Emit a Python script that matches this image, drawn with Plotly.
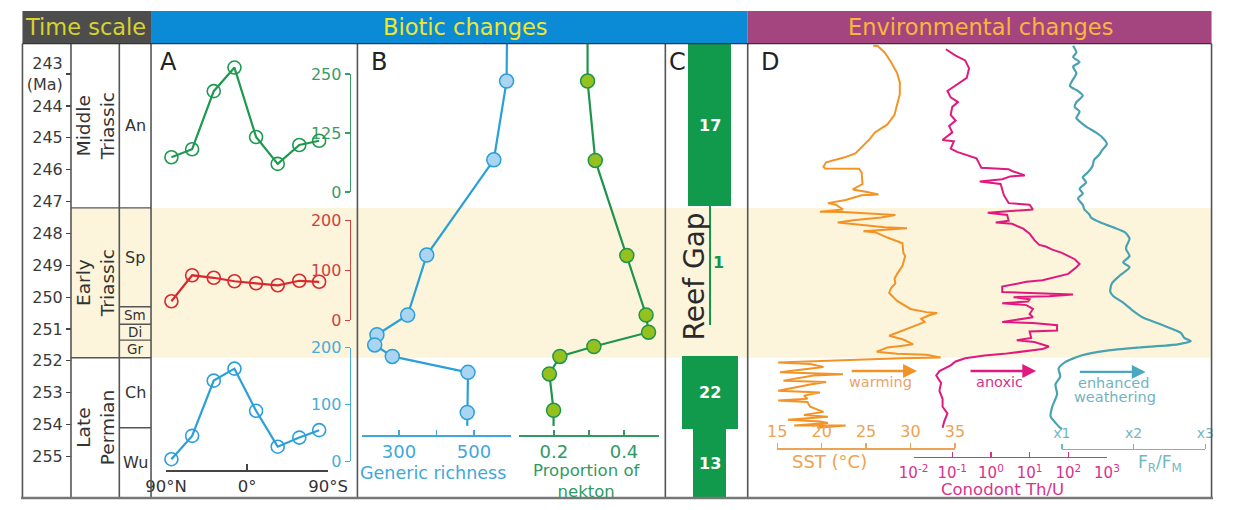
import plotly.graph_objects as go

W, H = 1233, 510
FONT = "DejaVu Sans"

# ---------------- data ----------------
age_ticks = [243, 244, 245, 246, 247, 248, 249, 250, 251, 252, 253, 254, 255]

series_names = ["Middle<br>Triassic", "Early<br>Triassic", "Late<br>Permian"]
series_top = [242.05, 247.2, 251.9]
series_base = [247.2, 251.9, 256.3]

stage_names = ["An", "Sp", "Sm", "Di", "Gr", "Ch", "Wu"]
stage_top = [242.05, 247.2, 250.3, 250.85, 251.35, 251.9, 254.1]
stage_base = [247.2, 250.3, 250.85, 251.35, 251.9, 254.1, 256.3]

early_triassic = [247.2, 251.9]

# Panel A: generic diversity by palaeolatitude
lat = [84, 61, 37, 14, -10, -34, -58, -80]
div_mid_triassic = [74, 91, 214, 264, 117, 60, 100, 109]
div_early_triassic = [38, 90, 85, 78, 74, 70, 79, 77]
div_late_permian = [4, 45, 142, 163, 89, 26, 42, 55]

# Panel B
rich_age = [243.22, 245.69, 248.68, 250.56, 251.18, 251.50, 251.86, 252.36, 253.62]
richness = [587, 553, 374, 323, 241, 235, 282, 484, 482]
rich_ends_age = [242.05, 254.04]
rich_ends = [588, 482]

nek_age = [243.22, 245.71, 248.69, 250.56, 251.10, 251.55, 251.86, 252.41, 253.55]
nekton = [0.296, 0.318, 0.408, 0.463, 0.470, 0.314, 0.217, 0.187, 0.199]
nek_ends_age = [242.05, 254.04]
nek_ends = [0.296, 0.199]

# Panel C: number of reefs
reef_counts = [17, 1, 22, 13]
reef_top = [242.05, 247.1, 251.85, 254.15]
reef_base = [247.15, 250.87, 254.15, 256.3]

# Panel D
sst_age = [242.11, 242.12, 242.32, 242.62, 242.97, 243.27, 243.63, 243.98, 244.28, 244.58,
           244.73, 244.83, 245.04, 245.24, 245.49, 245.62, 245.71, 245.77, 245.91, 245.96,
           245.97, 246.09, 246.45, 246.55, 246.62, 246.70, 246.78, 246.80, 246.95, 247.05,
           247.10, 247.25, 247.32, 247.33, 247.42, 247.50, 247.58, 247.66, 247.73, 247.81,
           247.84, 247.89, 247.93, 247.96, 248.13, 248.31, 248.61, 248.71, 249.02, 249.27,
           249.42, 249.57, 249.72, 249.87, 250.12, 250.37, 250.47, 250.50, 250.57, 250.68,
           250.78, 250.88, 251.08, 251.21, 251.33, 251.48, 251.53, 251.58, 251.71, 251.78,
           251.81, 251.89, 251.92, 251.95, 251.98, 252.02, 252.05, 252.10, 252.19, 252.36,
           252.39, 252.42, 252.46, 252.62, 252.66, 252.74, 252.94, 252.99, 253.09, 253.19,
           253.24, 253.29, 253.44, 253.60, 253.70, 253.75, 253.85, 253.90, 253.95, 254.03,
           254.03, 254.10]
sst = [25.8, 26.3, 27.1, 27.8, 28.5, 28.8, 28.8, 28.5, 28.2, 27.4,
       26.5, 26.0, 25.4, 24.7, 23.8, 22.5, 21.3, 20.5, 20.2, 20.4,
       24.2, 24.5, 24.6, 24.0, 23.5, 25.1, 26.4, 24.5, 22.7, 20.7,
       21.6, 22.4, 19.8, 22.4, 28.3, 26.7, 23.8, 21.8, 24.5, 27.1,
       29.6, 26.7, 24.7, 26.0, 27.4, 29.1, 29.2, 29.4, 29.1, 28.5,
       28.2, 28.3, 27.8, 27.6, 28.5, 30.0, 31.8, 33.0, 32.1, 31.2,
       31.6, 30.7, 28.9, 27.6, 29.2, 30.3, 28.9, 27.4, 26.2, 28.5,
       31.8, 33.4, 28.9, 26.0, 22.4, 18.7, 15.1, 18.7, 20.2, 15.3,
       19.5, 22.4, 19.1, 15.7, 20.5, 18.7, 15.1, 19.8, 18.0, 18.4,
       15.1, 18.4, 18.7, 20.2, 18.0, 20.7, 16.2, 19.8, 20.7, 16.9,
       22.7, 19.5]

thu_age = [242.22, 242.42, 242.57, 242.82, 243.12, 243.32, 243.53, 243.73, 243.88, 244.03,
           244.28, 244.46, 244.63, 244.83, 245.07, 245.11, 245.34, 245.44, 245.64, 245.84,
           245.94, 245.99, 246.04, 246.18, 246.21, 246.30, 246.37, 246.45, 246.80, 247.05,
           247.10, 247.25, 247.30, 247.35, 247.42, 247.60, 247.66, 247.70, 247.85, 248.01,
           248.21, 248.36, 248.41, 248.51, 248.61, 248.71, 248.81, 248.96, 249.06, 249.27,
           249.47, 249.52, 249.67, 249.84, 249.92, 249.97, 250.00, 250.07, 250.14, 250.19,
           250.25, 250.37, 250.53, 250.63, 250.78, 250.81, 250.88, 251.05, 251.08, 251.28,
           251.35, 251.41, 251.55, 251.63, 251.68, 251.78, 251.83, 251.92, 252.02, 252.14,
           252.32, 252.46, 252.69, 252.94, 253.19, 253.44, 253.65, 253.90, 254.10]
thu = [0.0684, 0.122, 0.216, 0.272, 0.237, 0.133, 0.075, 0.091, 0.141, 0.100,
       0.091, 0.122, 0.083, 0.100, 0.056, 0.110, 0.091, 0.133, 0.422, 0.513,
       0.562, 2.88, 3.49, 7.50, 3.16, 1.96, 0.513, 1.78, 2.16, 2.88,
       10.0, 12.2, 3.16, 0.827, 2.62, 2.88, 1.33, 3.49, 6.84, 10.0,
       13.3, 17.8, 26.2, 38.5, 68.4, 100, 147, 196, 162, 100,
       21.6, 8.27, 1.96, 1.96, 133, 31.6, 3.85, 10.0, 9.12, 1.96,
       8.27, 12.2, 10.0, 12.2, 1.96, 12.2, 51.3, 51.3, 10.0, 11.0,
       4.65, 13.3, 31.6, 21.6, 10.0, 2.16, 0.684, 0.216, 0.122, 0.091,
       0.0465, 0.0385, 0.0513, 0.0465, 0.0562, 0.0562, 0.075, 0.062, 0.0562]

frfm_age = [242.11, 242.32, 242.47, 242.62, 242.77, 242.97, 243.37, 243.53, 243.68, 243.88,
            244.03, 244.18, 244.38, 244.53, 244.68, 244.83, 244.98, 245.19, 245.39, 245.54,
            245.69, 245.89, 246.09, 246.24, 246.40, 246.60, 246.75, 246.90, 247.10, 247.25,
            247.40, 247.50, 247.66, 247.81, 247.96, 248.16, 248.41, 248.51, 248.71, 248.91,
            249.06, 249.32, 249.57, 249.82, 249.97, 250.17, 250.42, 250.63, 250.83, 251.03,
            251.13, 251.28, 251.38, 251.48, 251.58, 251.68, 251.83, 252.04, 252.24, 252.49,
            252.74, 253.04, 253.44, 253.74, 254.00, 254.15]
frfm = [1.156, 1.202, 1.156, 1.247, 1.156, 1.202, 1.112, 1.224, 1.291, 1.202,
        1.179, 1.247, 1.202, 1.270, 1.359, 1.472, 1.561, 1.628, 1.561, 1.517,
        1.449, 1.426, 1.359, 1.291, 1.337, 1.247, 1.291, 1.224, 1.291, 1.314,
        1.382, 1.405, 1.539, 1.719, 1.877, 1.944, 1.898, 1.898, 1.944, 1.854,
        1.944, 1.809, 1.696, 1.674, 1.719, 1.854, 1.989, 2.123, 2.349, 2.572,
        2.663, 2.707, 2.798, 2.618, 2.079, 1.628, 1.270, 1.045, 0.954, 0.977,
        0.910, 0.933, 0.865, 0.842, 0.933, 1.0]

# ---------------- layout helpers ----------------
def X(px):
    return px / W

def Y(py):
    return 1 - py / H

PX_PER_MA = 33.1
def age_at(py):
    return 247 + (py - 200) / PX_PER_MA

def lin(v0, p0, v1, p1, p):
    return v0 + (p - p0) * (v1 - v0) / (p1 - p0)

TOP, BOT = 36, 508

GREEN_A = "#1e9a50"; RED_A = "#d9282e"; BLUE_A = "#2b9fd9"
RICH_C = "#2a9fd8"; NEK_C = "#1f944c"
REEF_C = "#129a4c"
SST_C = "#f39325"; THU_C = "#e0197f"; FR_C = "#48a2b2"

fig = go.Figure()

# ---- Panel A ----
fig.add_trace(go.Scatter(x=lat, y=div_mid_triassic, xaxis="x", yaxis="y3", mode="lines+markers",
                         line=dict(color=GREEN_A, width=2.2), cliponaxis=False,
                         marker=dict(symbol="circle-open", size=13, color=GREEN_A, line=dict(width=1.6))))
fig.add_trace(go.Scatter(x=[None], y=[None], xaxis="x", yaxis="y2", mode="markers", showlegend=False))
fig.add_trace(go.Scatter(x=lat, y=div_early_triassic, xaxis="x", yaxis="y4", mode="lines+markers",
                         line=dict(color=RED_A, width=2.2), cliponaxis=False,
                         marker=dict(symbol="circle-open", size=13, color=RED_A, line=dict(width=1.6))))
fig.add_trace(go.Scatter(x=lat, y=div_late_permian, xaxis="x", yaxis="y5", mode="lines+markers",
                         line=dict(color=BLUE_A, width=2.2), cliponaxis=False,
                         marker=dict(symbol="circle-open", size=13, color=BLUE_A, line=dict(width=1.6))))

# ---- Panel B ----
fig.add_trace(go.Scatter(x=[rich_ends[0]] + richness + [rich_ends[1]],
                         y=[rich_ends_age[0]] + rich_age + [rich_ends_age[1]],
                         xaxis="x2", yaxis="y", mode="lines", line=dict(color=RICH_C, width=2.2)))
fig.add_trace(go.Scatter(x=richness, y=rich_age, xaxis="x2", yaxis="y", mode="markers", cliponaxis=False,
                         marker=dict(size=14, color="#a9d5f3", line=dict(color=RICH_C, width=1.5))))
fig.add_trace(go.Scatter(x=[nek_ends[0]] + nekton + [nek_ends[1]],
                         y=[nek_ends_age[0]] + nek_age + [nek_ends_age[1]],
                         xaxis="x3", yaxis="y", mode="lines", line=dict(color=NEK_C, width=2.2)))
fig.add_trace(go.Scatter(x=nekton, y=nek_age, xaxis="x3", yaxis="y", mode="markers", cliponaxis=False,
                         marker=dict(size=14, color="#95c11f", line=dict(color=NEK_C, width=1.5))))

# ---- Panel C ----
fig.add_trace(go.Bar(orientation="h", x=reef_counts, base=[-c / 2 for c in reef_counts],
                     y=[(t + b) / 2 for t, b in zip(reef_top, reef_base)],
                     width=[b - t for t, b in zip(reef_top, reef_base)],
                     marker=dict(color=REEF_C, line=dict(width=0)), xaxis="x4", yaxis="y"))

# ---- Panel D ----
fig.add_trace(go.Scatter(x=sst, y=sst_age, xaxis="x5", yaxis="y", mode="lines",
                         line=dict(color=SST_C, width=2)))
fig.add_trace(go.Scatter(x=thu, y=thu_age, xaxis="x6", yaxis="y", mode="lines",
                         line=dict(color=THU_C, width=2)))
fig.add_trace(go.Scatter(x=frfm, y=frfm_age, xaxis="x8", yaxis="y", mode="lines",
                         line=dict(color=FR_C, width=2.2, shape="spline", smoothing=0.6)))
fig.add_trace(go.Scatter(x=[None], y=[None], xaxis="x7", yaxis="y", mode="markers", showlegend=False))

# ---------------- axes ----------------
def ax_style(color, size, **kw):
    d = dict(showgrid=False, zeroline=False, showline=True, linecolor=color, linewidth=1.5,
             tickcolor=color, tickwidth=1.5, ticklen=5,
             tickfont=dict(family=FONT, size=size, color=color), fixedrange=True)
    d.update(kw)
    return d

age_text = ["243<br>(Ma)"] + [str(a) for a in age_ticks[1:]]
layout_axes = dict(
    yaxis=dict(domain=[Y(BOT), Y(TOP)], range=[age_at(BOT), age_at(TOP)], anchor="free",
               position=X(51.7), side="left", tickvals=age_ticks, ticktext=age_text,
               ticks="outside", ticklen=5, tickwidth=1.2, tickcolor="#444", showline=False,
               showgrid=False, zeroline=False, tickfont=dict(family=FONT, size=16, color="#3a3a3a")),
    xaxis=ax_style("#444", 16.5, domain=[X(150), X(317.7)], range=[90, -90], anchor="free",
                   position=Y(479.3), tickvals=[90, 0, -90], ticktext=["90°N", "0°", "90°S"],
                   ticks="inside", ticklen=6, tickfont=dict(family=FONT, size=16.5, color="#333")),
    yaxis2=ax_style("#3c9a68", 16, domain=[Y(190.3), Y(67.7)], range=[0, 250], anchor="free",
                    position=X(340), side="left", tickvals=[0, 125, 250], ticks="outside"),
    yaxis3=dict(domain=[Y(190.3), Y(40)], range=[0, lin(0, 190.3, 250, 67.7, 40)],
                visible=False, fixedrange=True),
    yaxis4=ax_style("#d0403c", 16, domain=[Y(323.3), Y(219.5)], range=[0, 200], anchor="free",
                    position=X(340), side="left", tickvals=[0, 100, 200], ticks="outside"),
    yaxis5=ax_style("#48acd8", 16, domain=[Y(470), Y(351.7)], range=[0, 200], anchor="free",
                    position=X(340), side="left", tickvals=[0, 100, 200], ticks="outside"),
    xaxis2=ax_style("#3fa7da", 18, domain=[X(352.3), X(507.3)], range=[200, 600], anchor="free",
                    position=Y(442.7), tickvals=[300, 500], ticks="inside", ticklabelstandoff=0,
                    minor=dict(tickvals=[200, 400, 600], ticks="inside", ticklen=5,
                               tickcolor="#3fa7da", tickwidth=1.5, showgrid=False)),
    xaxis3=ax_style("#2f9a62", 18, domain=[X(515), X(660)], range=[0.1, 0.5], anchor="free",
                    position=Y(442.7), tickvals=[0.2, 0.4], ticktext=["0.2", "0.4"],
                    ticks="inside", ticklabelstandoff=0,
                    minor=dict(tickvals=[0.1, 0.3, 0.5], ticks="inside", ticklen=5,
                               tickcolor="#2f9a62", tickwidth=1.5, showgrid=False)),
    xaxis4=dict(domain=[X(666.5), X(751.7)],
                range=[(666.5 - 712.5) / 2.64, (751.7 - 712.5) / 2.64], visible=False, fixedrange=True),
    xaxis5=ax_style("#eea253", 16, domain=[X(782.3), X(966)], range=[15, 35], anchor="free",
                    position=Y(456), side="top", tickvals=[15, 20, 25, 30, 35], ticks="outside"),
    xaxis6=ax_style("#d8338b", 15, type="log", domain=[X(923.3), X(1123.3)], range=[-2, 3],
                    anchor="free", position=Y(465), tickvals=[0.01, 0.1, 1, 10, 100, 1000],
                    ticktext=["10<sup>-2</sup>", "10<sup>-1</sup>", "10<sup>0</sup>", "10<sup>1</sup>",
                              "10<sup>2</sup>", "10<sup>3</sup>"], ticks="inside",
                    ticklabelstandoff=2),
    xaxis7=ax_style("#72b7c3", 14, domain=[X(1076.7), X(1225)], range=[1, 3], anchor="free",
                    position=Y(456.7), side="top", tickvals=[1, 2, 3], ticktext=["x1", "x2", "x3"],
                    ticks="outside"),
    xaxis8=dict(domain=[X(752), X(1231)],
                range=[lin(1, 1076.7, 3, 1225, 752), lin(1, 1076.7, 3, 1225, 1231)],
                visible=False, fixedrange=True),
)

# ---------------- shapes ----------------
shapes = []

def pline(x0, y0, x1, y1, color="#444", width=1.5, yref="paper"):
    shapes.append(dict(type="line", xref="paper", yref=yref, x0=x0, y0=y0, x1=x1, y1=y1,
                       line=dict(color=color, width=width), layer="above"))

# Early Triassic band
shapes.append(dict(type="rect", xref="paper", yref="y", x0=X(51.7), x1=X(1231.5),
                   y0=early_triassic[0], y1=early_triassic[1], fillcolor="#fcf5dc",
                   line=dict(width=0), layer="below"))
# headers
for x0, x1, col in [(1.5, 134.5, "#4d4d4d"), (134.5, 751.7, "#0b8bd5"), (751.7, 1231.5, "#a5457f")]:
    shapes.append(dict(type="rect", xref="paper", yref="paper", x0=X(x0), x1=X(x1), y0=Y(36), y1=Y(2),
                       fillcolor=col, line=dict(width=0), layer="below"))
# frame
for xp in [1.5, 51.7, 101.7, 134.5, 348, 666.5, 751.7, 1231.5]:
    pline(X(xp), Y(TOP), X(xp), Y(BOT), color="#555", width=1.6)
pline(X(1.5), Y(36), X(1231.5), Y(36), color="#333", width=1.2)
pline(X(0), Y(508), X(1233), Y(508), color="#777", width=2.5)
# time-scale boundaries
for t in series_top[1:]:
    pline(X(51.7), t, X(134.5), t, color="#555", width=1.4, yref="y")
for t in stage_top[1:]:
    if t not in series_top:
        pline(X(101.7), t, X(134.5), t, color="#555", width=1.4, yref="y")

# ---------------- annotations ----------------
anns = []

def ann(text, xpx, ypx, size, color, xanchor="center", yref="paper", **kw):
    d = dict(text=text, x=X(xpx), y=(Y(ypx) if yref == "paper" else ypx), xref="paper", yref=yref,
             showarrow=False, xanchor=xanchor, yanchor="middle",
             font=dict(family=FONT, size=size, color=color))
    d.update(kw)
    anns.append(d)

ann("Time scale", 67, 19, 22.5, "#d8d22e")
ann("Biotic changes", 460, 19, 22.5, "#f2e62a")
ann("Environmental changes", 993, 19, 22.5, "#f7b73c")

for name, t, b in zip(series_names, series_top, series_base):
    ann(name, 77, (t + b) / 2, 18.5, "#333", yref="y", textangle=-90)
for name, t, b in zip(stage_names, stage_top, stage_base):
    sz = 13.5 if name in ("Sm", "Di", "Gr") else 16
    ann(name, 118, (t + b) / 2, sz, "#333", yref="y")

for letter, xp in [("A", 142), ("B", 360), ("C", 668), ("D", 763)]:
    ann(letter, xp, 55, 24, "#222", xanchor="left")

# reef labels
for cnt, t, b in zip(reef_counts, reef_top, reef_base):
    if cnt > 1:
        ann("<b>%d</b>" % cnt, 712.5, (t + b) / 2, 16, "white", yref="y")
ann("<b>1</b>", 722, age_at(263), 16, REEF_C, yref="y")
ann("Reef Gap", 697, age_at(278), 28, "#2a2a2a", yref="y", textangle=-90)

# axis titles
ann("Generic richness", 426.5, 482, 17.5, "#3fa7da")
ann("Proportion of<br>nekton", 585, 490.5, 16.5, "#2f9a62")
ann("SST (°C)", 836.7, 470, 18, "#eea253")
ann("Conodont Th/U", 1015, 499, 16.5, "#d8338b")
ann("F<sub>R</sub>/F<sub>M</sub>", 1178, 471.7, 17, "#72b7c3")

# arrows
for x0, x1, yp, col in [(860, 926.7, 376, SST_C), (983, 1050, 376, THU_C), (1096, 1163.3, 377, "#4aa9c0")]:
    anns.append(dict(text="", x=X(x1), y=Y(yp), xref="paper", yref="paper", showarrow=True,
                     ax=-(x1 - x0), ay=0, axref="pixel", ayref="pixel", arrowhead=2, arrowsize=1.2,
                     arrowwidth=2.3, arrowcolor=col))
ann("warming", 889.3, 387.5, 14.5, "#eaa36a")
ann("anoxic", 1012, 387.5, 14.5, "#d8338b")
ann("enhanced", 1130, 388, 14.5, "#6fb4c2")
ann("weathering", 1131.7, 403.5, 14.5, "#6fb4c2")

fig.update_layout(
    width=W, height=H, autosize=False, margin=dict(l=0, r=0, t=0, b=0, pad=0),
    paper_bgcolor="white", plot_bgcolor="rgba(0,0,0,0)", showlegend=False, hovermode=False,
    font=dict(family=FONT, size=15, color="#333"), shapes=shapes, annotations=anns,
    bargap=0, **layout_axes)

fig.write_html("out.html", config={"staticPlot": True},
               post_script="document.body.style.margin='0px';")
